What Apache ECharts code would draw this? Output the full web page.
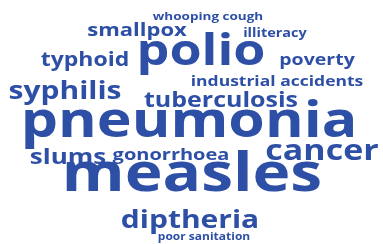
<!DOCTYPE html>
<html>
<head>
<meta charset="utf-8">
<script src="https://cdn.jsdelivr.net/npm/echarts@6/dist/echarts.min.js"></script>
<style>
html, body { margin: 0; padding: 0; background: #fff; }
#chart { width: 383px; height: 244px; }
</style>
</head>
<body>
<div id="chart"></div>
<script>
// words and their weight (font size in px)
var words = ['pneumonia', 'measles', 'polio', 'cancer', 'syphilis', 'diptheria', 'tuberculosis', 'slums',
  'typhoid', 'smallpox', 'gonorrhoea', 'poverty', 'industrial accidents', 'illiteracy', 'whooping cough', 'poor sanitation'];
var weights = [59, 64, 52, 34, 30, 30, 25, 26, 23, 22, 20, 19.5, 17.5, 14.5, 13.5, 12];
// layout of the cloud: word centre x and baseline y
var layoutX = [189, 192, 201, 322, 65, 190, 221, 68, 85, 137, 171, 317, 277, 275, 208, 204];
var layoutY = [140, 194, 67, 162, 100, 229, 108, 165, 67, 37, 161, 66, 87, 38, 21, 241];

var color = '#2e4fa6';
var squash = 0.84;   // the glyphs in the picture are a bit flatter than the font
var chart = echarts.init(document.getElementById('chart'));

chart.setOption({
  animation: false,
  grid: { left: 0, right: 0, top: 0, bottom: 0 },
  xAxis: { type: 'value', min: 0, max: 383, show: false },
  yAxis: { type: 'value', min: 0, max: 244, inverse: true, show: false },
  series: [
    {
      type: 'custom',
      data: words.map(function (w, i) { return [layoutX[i], layoutY[i], weights[i]]; }),
      renderItem: function (params, api) {
        var p = api.coord([api.value(0), api.value(1)]);
        var fs = api.value(2);
        return {
          type: 'text',
          x: p[0],
          y: p[1] - 0.34 * fs * squash,
          scaleY: squash,
          style: {
            text: words[params.dataIndex],
            fontSize: fs,
            fontFamily: 'Open Sans',
            fontWeight: 'bold',
            fill: color,
            align: 'center',
            verticalAlign: 'middle'
          }
        };
      }
    }
  ]
});
</script>
</body>
</html>
